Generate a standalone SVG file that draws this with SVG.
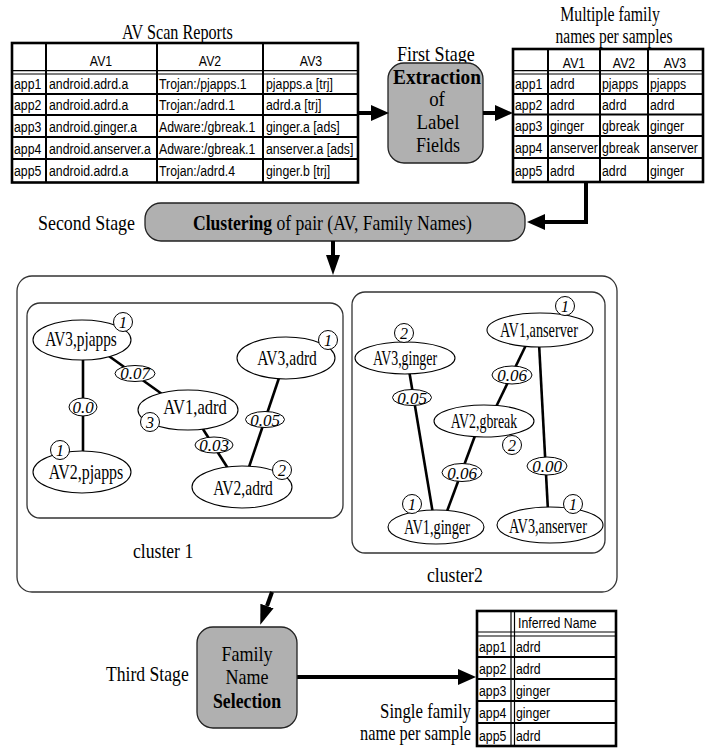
<svg xmlns="http://www.w3.org/2000/svg" width="722" height="749" viewBox="0 0 722 749">
<defs>
<style>
.t{font-family:"Liberation Serif","Times New Roman",serif;fill:#000}
.s{font-family:"Liberation Sans",Arial,sans-serif;font-size:15px;fill:#000}
.b{font-weight:bold}
.i{font-style:italic}
.c{font-family:"Liberation Serif","Times New Roman",serif;font-style:italic;font-size:16px;text-anchor:middle;fill:#000}
.node{fill:#fff;stroke:#000;stroke-width:1.1}
.cnt{fill:#fff;stroke:#000;stroke-width:1}
.lab{fill:#fff;stroke:#000;stroke-width:1}
.edge{stroke:#000;stroke-width:2.6;fill:none}
.stage{fill:#b0b0b0;stroke:#222;stroke-width:1.3}
.frame{fill:#fff;stroke:#333;stroke-width:1.3}
.tout{fill:#fff;stroke:#000;stroke-width:2.6}
.tl{stroke:#000;stroke-width:2;fill:none}
.td{stroke:#000;stroke-width:1.2;fill:none}
.arr{stroke:#000;stroke-width:4;fill:none}
</style>
<marker id="ah" markerUnits="userSpaceOnUse" markerWidth="20" markerHeight="18" refX="0" refY="8" orient="auto" viewBox="0 0 20 18">
<path d="M0,0 L18,8 L0,16 z" fill="#000"/>
</marker>
<marker id="ahs" markerUnits="userSpaceOnUse" markerWidth="20" markerHeight="18" refX="0" refY="7" orient="auto" viewBox="0 0 20 18">
<path d="M0,0 L20,7 L0,14 z" fill="#000"/>
</marker>
</defs>
<rect width="722" height="749" fill="#fff"/>

<!-- Table 1: AV Scan Reports -->
<g id="table-av-scan">
<text class="t" font-size="21" transform="translate(122 39) scale(0.77 1)">AV Scan Reports</text>
<rect class="tout" x="12" y="43" width="346" height="139.5"/>
<path class="tl" d="M157,43 V182.5 M263,43 V182.5 M12,94 H358 M12,115 H358 M12,137 H358 M12,159 H358"/>
<path class="tl" d="M46,43 V182.5" stroke-width="3.2"/>
<path class="td" d="M12,70.7 H358 M12,74 H358"/>
<g class="s" text-anchor="middle">
<text transform="translate(101 66) scale(0.82 1)">AV1</text>
<text transform="translate(210 66) scale(0.82 1)">AV2</text>
<text transform="translate(311 66) scale(0.82 1)">AV3</text>
</g>
<g class="s">
<text transform="translate(14 89) scale(0.82 1)">app1</text>
<text transform="translate(49 89) scale(0.82 1)">android.adrd.a</text>
<text transform="translate(159 89) scale(0.82 1)">Trojan:/pjapps.1</text>
<text transform="translate(266 89) scale(0.82 1)">pjapps.a [trj]</text>
<text transform="translate(14 110) scale(0.82 1)">app2</text>
<text transform="translate(49 110) scale(0.82 1)">android.adrd.a</text>
<text transform="translate(159 110) scale(0.82 1)">Trojan:/adrd.1</text>
<text transform="translate(266 110) scale(0.82 1)">adrd.a [trj]</text>
<text transform="translate(14 131.5) scale(0.82 1)">app3</text>
<text transform="translate(49 131.5) scale(0.82 1)">android.ginger.a</text>
<text transform="translate(159 131.5) scale(0.82 1)">Adware:/gbreak.1</text>
<text transform="translate(266 131.5) scale(0.82 1)">ginger.a [ads]</text>
<text transform="translate(14 153.5) scale(0.82 1)">app4</text>
<text transform="translate(49 153.5) scale(0.82 1)">android.anserver.a</text>
<text transform="translate(159 153.5) scale(0.82 1)">Adware:/gbreak.1</text>
<text transform="translate(266 153.5) scale(0.82 1)">anserver.a [ads]</text>
<text transform="translate(14 176) scale(0.82 1)">app5</text>
<text transform="translate(49 176) scale(0.82 1)">android.adrd.a</text>
<text transform="translate(159 176) scale(0.82 1)">Trojan:/adrd.4</text>
<text transform="translate(266 176) scale(0.82 1)">ginger.b [trj]</text>
</g>
</g>

<!-- Table 2: Multiple family names per samples -->
<g id="table-multi">
<text class="t" font-size="20" text-anchor="middle" transform="translate(610 21) scale(0.79 1)">Multiple family</text>
<text class="t" font-size="20" text-anchor="middle" transform="translate(614 43) scale(0.775 1)">names per samples</text>
<rect class="tout" x="513" y="49" width="190" height="133"/>
<path class="tl" d="M600,49 V182 M648,49 V182 M513,94 H703 M513,114.5 H703 M513,136 H703 M513,158 H703"/>
<path class="tl" d="M548,49 V182" stroke-width="3.2"/>
<path class="td" d="M513,70.7 H703 M513,74 H703"/>
<g class="s" text-anchor="middle">
<text transform="translate(574 68) scale(0.82 1)">AV1</text>
<text transform="translate(624 68) scale(0.82 1)">AV2</text>
<text transform="translate(675 68) scale(0.82 1)">AV3</text>
</g>
<g class="s">
<text transform="translate(515 89) scale(0.82 1)">app1</text>
<text transform="translate(550 89) scale(0.82 1)">adrd</text>
<text transform="translate(602 89) scale(0.82 1)">pjapps</text>
<text transform="translate(650 89) scale(0.82 1)">pjapps</text>
<text transform="translate(515 109.5) scale(0.82 1)">app2</text>
<text transform="translate(550 109.5) scale(0.82 1)">adrd</text>
<text transform="translate(602 109.5) scale(0.82 1)">adrd</text>
<text transform="translate(650 109.5) scale(0.82 1)">adrd</text>
<text transform="translate(515 130.5) scale(0.82 1)">app3</text>
<text transform="translate(550 130.5) scale(0.82 1)">ginger</text>
<text transform="translate(602 130.5) scale(0.82 1)">gbreak</text>
<text transform="translate(650 130.5) scale(0.82 1)">ginger</text>
<text transform="translate(515 152.5) scale(0.82 1)">app4</text>
<text transform="translate(550 152.5) scale(0.82 1)">anserver</text>
<text transform="translate(602 152.5) scale(0.82 1)">gbreak</text>
<text transform="translate(650 152.5) scale(0.82 1)">anserver</text>
<text transform="translate(515 175.5) scale(0.82 1)">app5</text>
<text transform="translate(550 175.5) scale(0.82 1)">adrd</text>
<text transform="translate(602 175.5) scale(0.82 1)">adrd</text>
<text transform="translate(650 175.5) scale(0.82 1)">ginger</text>
</g>
</g>

<!-- Stage 1 -->
<g id="stage1">
<text class="t" font-size="21" transform="translate(397 61) scale(0.86 1)">First Stage</text>
<rect class="stage" x="388" y="63" width="95" height="100" rx="16"/>
<text class="t b" font-size="21" text-anchor="middle" transform="translate(437 84) scale(0.92 1)">Extraction</text>
<text class="t" font-size="21" text-anchor="middle" transform="translate(437 106) scale(0.9 1)">of</text>
<text class="t" font-size="21" text-anchor="middle" transform="translate(438 129) scale(0.9 1)">Label</text>
<text class="t" font-size="21" text-anchor="middle" transform="translate(438 152) scale(0.86 1)">Fields</text>
</g>

<!-- Stage 2 -->
<g id="stage2">
<text class="t" font-size="22" transform="translate(38 230) scale(0.815 1)">Second Stage</text>
<rect class="stage" x="145" y="203" width="380" height="38" rx="16"/>
<text class="t" font-size="22" transform="translate(193 230) scale(0.8 1)"><tspan class="b">Clustering</tspan> of pair (AV, Family Names)</text>
</g>

<!-- Cluster frames -->
<g id="clusters">
<rect class="frame" x="17" y="276" width="600" height="316" rx="15"/>
<rect class="frame" x="27" y="303" width="316" height="215" rx="13"/>
<rect class="frame" x="352" y="292" width="253" height="261" rx="13"/>
<text class="t" font-size="21" transform="translate(133 558) scale(0.84 1)">cluster 1</text>
<text class="t" font-size="21" transform="translate(427 582) scale(0.84 1)">cluster2</text>
</g>

<!-- Connectors -->
<g id="connectors">
<path class="arr" d="M358,113 H371" marker-end="url(#ah)"/>
<path class="arr" d="M483,113 H495" marker-end="url(#ah)"/>
<path class="arr" d="M586,182 V222 H545" marker-end="url(#ah)"/>
<path class="arr" d="M333,241 V255" stroke-width="3" marker-end="url(#ahs)"/>
<path class="arr" d="M272,592 L267,606" stroke-width="3.5" marker-end="url(#ahs)"/>
<path class="arr" d="M297,677 H458" stroke-width="4.5" marker-end="url(#ah)"/>
<path class="edge" d="M83,355 V455"/>
<path class="edge" d="M106,354 L162,394"/>
<path class="edge" d="M201,426 L229,470"/>
<path class="edge" d="M280,375 L248,470"/>
<path class="edge" d="M409,370 L433,514"/>
<path class="edge" d="M527,343 L495,409"/>
<path class="edge" d="M476,433 L446,514"/>
<path class="edge" d="M539,343 L548,511"/>
<g class="t i" font-size="17" text-anchor="middle">
<ellipse class="lab" cx="135" cy="373.5" rx="20" ry="8"/>
<text x="135" y="379">0.07</text>
<ellipse class="lab" cx="83" cy="407" rx="14" ry="9"/>
<text x="83" y="413">0.0</text>
<ellipse class="lab" cx="214" cy="445" rx="19" ry="8"/>
<text x="214" y="451">0.03</text>
<ellipse class="lab" cx="265" cy="419.5" rx="19.5" ry="8"/>
<text x="265" y="425.5">0.05</text>
<ellipse class="lab" cx="412" cy="397.5" rx="19.5" ry="8"/>
<text x="412" y="403.5">0.05</text>
<ellipse class="lab" cx="512" cy="375" rx="20" ry="9"/>
<text x="512" y="381">0.06</text>
<ellipse class="lab" cx="462" cy="472.5" rx="20" ry="9"/>
<text x="462" y="478.5">0.06</text>
<ellipse class="lab" cx="547" cy="466" rx="20" ry="9"/>
<text x="547" y="472">0.00</text>
</g>
</g>

<!-- Cluster 1 nodes -->
<g id="n-av3-pjapps">
<ellipse class="node" cx="82" cy="340" rx="49" ry="20"/>
<text class="t" font-size="21" text-anchor="middle" transform="translate(81 346) scale(0.73 1)">AV3,pjapps</text>
<circle class="cnt" cx="123" cy="322" r="9.5"/>
<text class="c" x="123" y="327.5">1</text>
</g>
<g id="n-av2-pjapps">
<ellipse class="node" cx="82" cy="472" rx="49" ry="21"/>
<text class="t" font-size="21" text-anchor="middle" transform="translate(86 479) scale(0.76 1)">AV2,pjapps</text>
<circle class="cnt" cx="60" cy="450" r="9.5"/>
<text class="c" x="60" y="455.5">1</text>
</g>
<g id="n-av1-adrd">
<ellipse class="node" cx="188" cy="410" rx="50" ry="20"/>
<text class="t" font-size="21" text-anchor="middle" transform="translate(195 414) scale(0.79 1)">AV1,adrd</text>
<circle class="cnt" cx="150" cy="422" r="9.5"/>
<text class="c" x="150" y="427.5">3</text>
</g>
<g id="n-av3-adrd">
<ellipse class="node" cx="286" cy="358" rx="49" ry="21"/>
<text class="t" font-size="21" text-anchor="middle" transform="translate(287 365) scale(0.74 1)">AV3,adrd</text>
<circle class="cnt" cx="328" cy="340" r="9.5"/>
<text class="c" x="328" y="345.5">1</text>
</g>
<g id="n-av2-adrd">
<ellipse class="node" cx="242" cy="487" rx="50" ry="21"/>
<text class="t" font-size="21" text-anchor="middle" transform="translate(243 495) scale(0.74 1)">AV2,adrd</text>
<circle class="cnt" cx="282" cy="470" r="9.5"/>
<text class="c" x="282" y="475.5">2</text>
</g>

<!-- Cluster 2 nodes -->
<g id="n-av1-anserver">
<ellipse class="node" cx="540" cy="330" rx="53" ry="17"/>
<text class="t" font-size="21" text-anchor="middle" transform="translate(539 337) scale(0.68 1)">AV1,anserver</text>
<circle class="cnt" cx="565" cy="306" r="9.5"/>
<text class="c" x="565" y="311.5">1</text>
</g>
<g id="n-av3-ginger">
<ellipse class="node" cx="405" cy="358" rx="50" ry="16"/>
<text class="t" font-size="21" text-anchor="middle" transform="translate(405 365) scale(0.66 1)">AV3,ginger</text>
<circle class="cnt" cx="404" cy="333" r="9.5"/>
<text class="c" x="404" y="338.5">2</text>
</g>
<g id="n-av2-gbreak">
<ellipse class="node" cx="484" cy="421" rx="50" ry="16"/>
<text class="t" font-size="21" text-anchor="middle" transform="translate(484 428) scale(0.66 1)">AV2,gbreak</text>
<circle class="cnt" cx="512" cy="445" r="9.5"/>
<text class="c" x="512" y="450.5">2</text>
</g>
<g id="n-av1-ginger">
<ellipse class="node" cx="436" cy="527" rx="48" ry="17"/>
<text class="t" font-size="21" text-anchor="middle" transform="translate(437 533.5) scale(0.68 1)">AV1,ginger</text>
<circle class="cnt" cx="412" cy="504" r="9.5"/>
<text class="c" x="412" y="509.5">1</text>
</g>
<g id="n-av3-anserver">
<ellipse class="node" cx="550" cy="525" rx="53" ry="18"/>
<text class="t" font-size="21" text-anchor="middle" transform="translate(548 533) scale(0.68 1)">AV3,anserver</text>
<circle class="cnt" cx="573" cy="504" r="9.5"/>
<text class="c" x="573" y="509.5">1</text>
</g>

<!-- Stage 3 -->
<g id="stage3">
<text class="t" font-size="21" transform="translate(106 681) scale(0.84 1)">Third Stage</text>
<rect class="stage" x="197" y="627" width="100" height="101" rx="16"/>
<text class="t" font-size="21" text-anchor="middle" transform="translate(247 661) scale(0.86 1)">Family</text>
<text class="t" font-size="21" text-anchor="middle" transform="translate(247 684) scale(0.86 1)">Name</text>
<text class="t b" font-size="21" text-anchor="middle" transform="translate(247 708) scale(0.845 1)">Selection</text>
</g>

<!-- Table 3: Inferred Name -->
<g id="table-inferred">
<rect class="tout" x="477" y="611" width="139" height="135" stroke-width="3"/>
<path class="tl" d="M477,657 H616 M477,679 H616 M477,701 H616 M477,723 H616" stroke-width="2.5"/>
<path class="td" d="M477,632 H616 M477,636 H616 M511,611 V746 M514.5,611 V746" stroke-width="1.6"/>
<g class="s">
<text transform="translate(518 628) scale(0.82 1)">Inferred Name</text>
<text transform="translate(479 652) scale(0.82 1)">app1</text>
<text transform="translate(516 652) scale(0.82 1)">adrd</text>
<text transform="translate(479 674) scale(0.82 1)">app2</text>
<text transform="translate(516 674) scale(0.82 1)">adrd</text>
<text transform="translate(479 696) scale(0.82 1)">app3</text>
<text transform="translate(516 696) scale(0.82 1)">ginger</text>
<text transform="translate(479 718) scale(0.82 1)">app4</text>
<text transform="translate(516 718) scale(0.82 1)">ginger</text>
<text transform="translate(479 741) scale(0.82 1)">app5</text>
<text transform="translate(516 741) scale(0.82 1)">adrd</text>
</g>
<text class="t" font-size="20" text-anchor="end" transform="translate(471 718) scale(0.84 1)">Single family</text>
<text class="t" font-size="20" text-anchor="end" transform="translate(471 740) scale(0.82 1)">name per sample</text>
</g>
</svg>
